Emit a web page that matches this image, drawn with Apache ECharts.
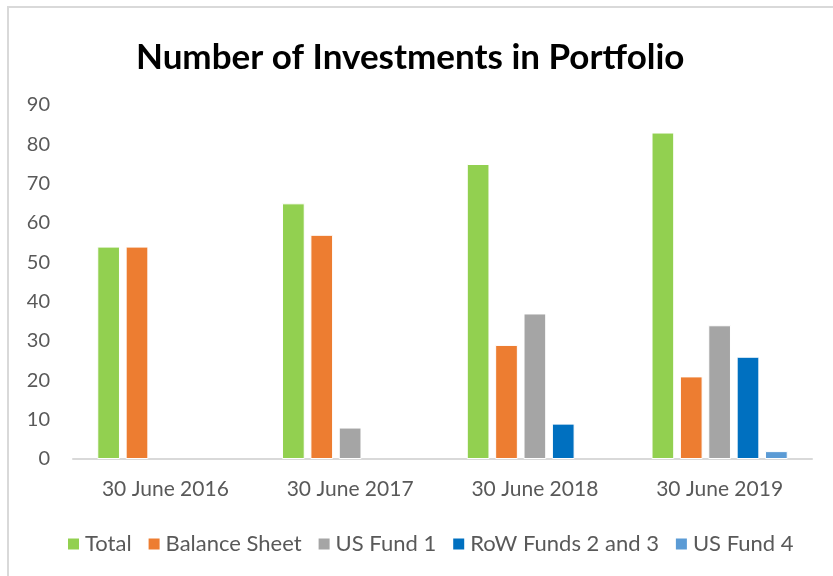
<!DOCTYPE html>
<html>
<head>
<meta charset="utf-8">
<script src="https://cdn.jsdelivr.net/npm/echarts@6/dist/echarts.min.js"></script>
<style>
  html, body { margin: 0; padding: 0; background: #fff; }
  #chart { width: 833px; height: 576px; }
</style>
</head>
<body>
<div id="chart"></div>
<script>
var categories = ['30 June 2016', '30 June 2017', '30 June 2018', '30 June 2019'];
var total = [54, 65, 75, 83];
var balanceSheet = [54, 57, 29, 21];
var usFund1 = [null, 8, 37, 34];
var rowFunds23 = [null, null, 9, 26];
var usFund4 = [null, null, null, 2];

var seriesNames = ['Total', 'Balance Sheet', 'US Fund 1', 'RoW Funds 2 and 3', 'US Fund 4'];
var seriesData = [total, balanceSheet, usFund1, rowFunds23, usFund4];
var colors = ['#92D050', '#ED7D31', '#A5A5A5', '#0070C0', '#5B9BD5'];

var chart = echarts.init(document.getElementById('chart'));
var fontFam = 'Lato, "Open Sans", sans-serif';

var series = seriesNames.map(function (name, i) {
  return {
    name: name,
    type: 'bar',
    data: seriesData[i],
    barWidth: 22.7,
    barGap: '25%',
    itemStyle: { color: colors[i], borderColor: '#fff', borderWidth: 1 }
  };
});

var option = {
  animation: false,
  color: colors,
  graphic: [{
    type: 'rect',
    shape: { x: 8, y: 7, width: 900, height: 700 },
    style: { fill: 'none', stroke: '#d9d9d9', lineWidth: 2 },
    silent: true
  }],
  title: {
    text: 'Number of Investments in Portfolio',
    left: 131,
    top: 35,
    textStyle: { fontFamily: fontFam, fontWeight: 'bold', fontSize: 35, color: '#000' }
  },
  legend: {
    left: 61,
    top: 528,
    itemWidth: 13,
    itemHeight: 13,
    itemGap: 15,
    icon: 'rect',
    textStyle: { fontFamily: fontFam, fontSize: 22, color: '#595959' },
    data: seriesNames
  },
  grid: { left: 73, right: 21, top: 105, bottom: 117 },
  xAxis: {
    type: 'category',
    data: categories,
    axisLine: { lineStyle: { color: '#d9d9d9', width: 2 } },
    axisTick: { show: false },
    axisLabel: { fontFamily: fontFam, fontSize: 21, color: '#595959', margin: 20 }
  },
  yAxis: {
    type: 'value',
    min: 0,
    max: 90,
    interval: 10,
    axisLine: { show: false },
    axisTick: { show: false },
    splitLine: { show: false },
    axisLabel: { fontFamily: fontFam, fontSize: 20, color: '#595959', margin: 23 }
  },
  series: series
};

chart.setOption(option);
</script>
</body>
</html>
